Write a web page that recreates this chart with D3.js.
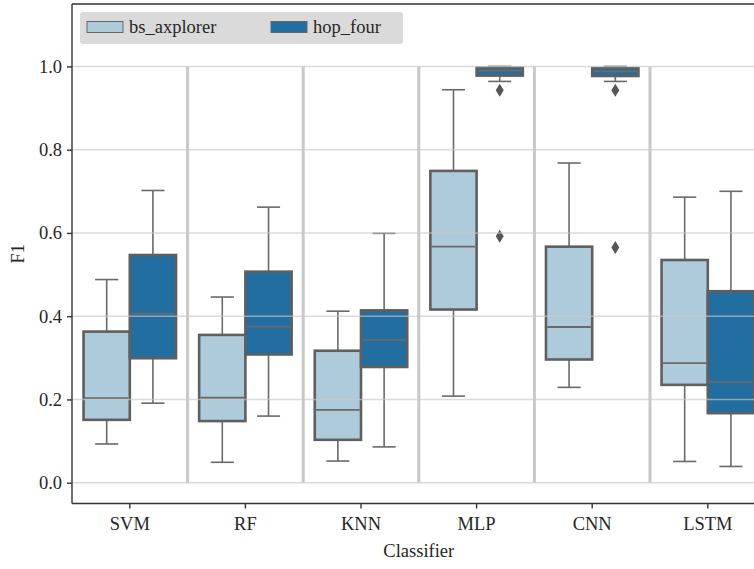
<!DOCTYPE html>
<html>
<head>
<meta charset="utf-8">
<script src="https://cdn.jsdelivr.net/npm/d3@7"></script>
<style>
  html, body { margin: 0; padding: 0; background: #fff; overflow: hidden; }
  svg { display: block; font-family: "Liberation Serif", "Times New Roman", serif; }
</style>
</head>
<body>
<svg id="chart" width="754" height="569"></svg>
<script>
// ---- data ----
const categories = ["SVM", "RF", "KNN", "MLP", "CNN", "LSTM"];
const seriesNames = ["bs_axplorer", "hop_four"];
const seriesColors = ["#aecbdc", "#236ea0"];

// five-number summaries: [whisker low, Q1, median, Q3, whisker high]
const bsAxplorer = [
  [0.093, 0.151, 0.203, 0.363, 0.488],
  [0.049, 0.148, 0.204, 0.355, 0.446],
  [0.052, 0.103, 0.175, 0.317, 0.412],
  [0.208, 0.416, 0.567, 0.749, 0.944],
  [0.229, 0.296, 0.374, 0.567, 0.768],
  [0.051, 0.235, 0.287, 0.535, 0.686]
];
const hopFour = [
  [0.191, 0.299, 0.406, 0.547, 0.702],
  [0.160, 0.308, 0.375, 0.507, 0.662],
  [0.086, 0.278, 0.343, 0.414, 0.599],
  [0.964, 0.978, 0.990, 0.997, 1.000],
  [0.964, 0.977, 0.988, 0.996, 1.000],
  [0.039, 0.167, 0.242, 0.460, 0.700]
];
// outliers: [category, series index, value]
const outliers = [
  ["MLP", 1, 0.943],
  ["MLP", 1, 0.592],
  ["CNN", 1, 0.943],
  ["CNN", 1, 0.565]
];
const yTicks = [0.0, 0.2, 0.4, 0.6, 0.8, 1.0];
const xLabel = "Classifier";
const yLabel = "F1";

// ---- layout ----
const svg = d3.select("#chart");
const mLeft = 72, mRight = 765.6, mTop = 4, mBottom = 503.5;

const x = d3.scaleBand().domain(categories).range([mLeft, mRight]).paddingInner(0).paddingOuter(0);
const y = d3.scaleLinear().domain([-0.05, 1.15]).range([mBottom, mTop]);
const hueScale = d3.scaleBand().domain(d3.range(seriesNames.length))
  .range([0, x.bandwidth() * 0.8]);

const data = [bsAxplorer, hopFour];

// category separators
svg.append("g").selectAll("line").data(categories.slice(1)).join("line")
  .attr("x1", d => x(d)).attr("x2", d => x(d))
  .attr("y1", y(0)).attr("y2", y(1))
  .attr("stroke", "#c8c8c8").attr("stroke-width", 3);

// boxes
const boxW = hueScale.bandwidth();
const groups = [];
categories.forEach((c, ci) => {
  data.forEach((series, si) => {
    groups.push({ c, si, s: series[ci] });
  });
});
const g = svg.append("g");
const bx = d => x(d.c) + x.bandwidth() * 0.1 + hueScale(d.si);
const cx = d => bx(d) + boxW / 2;

// whiskers
g.selectAll(".wlo").data(groups).join("line")
  .attr("x1", cx).attr("x2", cx)
  .attr("y1", d => y(d.s[0])).attr("y2", d => y(d.s[1]))
  .attr("stroke", "#6a6a6a").attr("stroke-width", 1.6);
g.selectAll(".whi").data(groups).join("line")
  .attr("x1", cx).attr("x2", cx)
  .attr("y1", d => y(d.s[3])).attr("y2", d => y(d.s[4]))
  .attr("stroke", "#6a6a6a").attr("stroke-width", 1.6);
// caps
[0, 4].forEach(k => {
  g.selectAll(".cap" + k).data(groups).join("line")
    .attr("x1", d => cx(d) - boxW / 4).attr("x2", d => cx(d) + boxW / 4)
    .attr("y1", d => y(d.s[k])).attr("y2", d => y(d.s[k]))
    .attr("stroke", "#6a6a6a").attr("stroke-width", 1.6);
});
// box
g.selectAll(".box").data(groups).join("rect")
  .attr("x", bx).attr("width", boxW)
  .attr("y", d => y(d.s[3])).attr("height", d => y(d.s[1]) - y(d.s[3]))
  .attr("fill", d => seriesColors[d.si])
  .attr("stroke", "#5f5f5f").attr("stroke-width", 2.6);
// median
g.selectAll(".med").data(groups).join("line")
  .attr("x1", d => bx(d) + 1.3).attr("x2", d => bx(d) + boxW - 1.3)
  .attr("y1", d => y(d.s[2])).attr("y2", d => y(d.s[2]))
  .attr("stroke", "#6a6a6a").attr("stroke-width", 1.8);

// outliers (thin diamonds)
const diamond = "M0,-6.5 L4,0 L0,6.5 L-4,0 Z";
g.selectAll(".out").data(outliers).join("path")
  .attr("d", diamond)
  .attr("transform", d => {
    const gd = { c: d[0], si: d[1] };
    return `translate(${cx(gd)},${y(d[2])})`;
  })
  .attr("fill", "#555");

// gridlines (drawn above the boxes, as in the reference)
svg.append("g").selectAll("line").data(yTicks).join("line")
  .attr("x1", mLeft).attr("x2", mRight)
  .attr("y1", d => y(d)).attr("y2", d => y(d))
  .attr("stroke", "#c8c8c8").attr("stroke-opacity", 0.65).attr("stroke-width", 1.6);

// axes frame
svg.append("line").attr("x1", mLeft).attr("x2", mLeft).attr("y1", mTop).attr("y2", mBottom)
  .attr("stroke", "#333").attr("stroke-width", 1.4);
svg.append("line").attr("x1", mLeft).attr("x2", mRight).attr("y1", mBottom).attr("y2", mBottom)
  .attr("stroke", "#333").attr("stroke-width", 1.4);
svg.append("line").attr("x1", mLeft).attr("x2", mRight).attr("y1", mTop).attr("y2", mTop)
  .attr("stroke", "#333").attr("stroke-width", 1.4);

// y axis
const yAxis = d3.axisLeft(y).tickValues(yTicks).tickFormat(d3.format(".1f")).tickSize(5).tickPadding(5);
const ya = svg.append("g").attr("transform", `translate(${mLeft},0)`).call(yAxis);
ya.select(".domain").remove();
ya.selectAll("line").attr("stroke", "#333").attr("stroke-width", 1.4);
ya.selectAll("text").attr("font-size", 18.5).attr("fill", "#262626")
  .attr("font-family", "Liberation Serif");

// x axis
const xAxis = d3.axisBottom(x).tickSize(5).tickPadding(8);
const xa = svg.append("g").attr("transform", `translate(0,${mBottom})`).call(xAxis);
xa.select(".domain").remove();
xa.selectAll("line").attr("stroke", "#333").attr("stroke-width", 1.4);
xa.selectAll("text").attr("font-size", 18.5).attr("fill", "#262626")
  .attr("font-family", "Liberation Serif");

// axis labels
svg.append("text").attr("x", (mLeft + mRight) / 2).attr("y", 557)
  .attr("text-anchor", "middle").attr("font-size", 18.5).attr("fill", "#262626").text(xLabel);
svg.append("text").attr("transform", `translate(24,${(mTop + mBottom) / 2}) rotate(-90)`)
  .attr("text-anchor", "middle").attr("font-size", 18.5).attr("fill", "#262626").text(yLabel);

// legend
const lg = svg.append("g");
lg.append("rect").attr("x", 80).attr("y", 12).attr("width", 323).attr("height", 32)
  .attr("rx", 3).attr("fill", "#dadadb");
const legX = [87, 271];
seriesNames.forEach((n, i) => {
  lg.append("rect").attr("x", legX[i]).attr("y", 21.5).attr("width", 36).attr("height", 11)
    .attr("fill", seriesColors[i]).attr("stroke", "#666").attr("stroke-width", 1);
  lg.append("text").attr("x", legX[i] + 42).attr("y", 33)
    .attr("font-size", 18.5).attr("fill", "#262626").text(n);
});
</script>
</body>
</html>
